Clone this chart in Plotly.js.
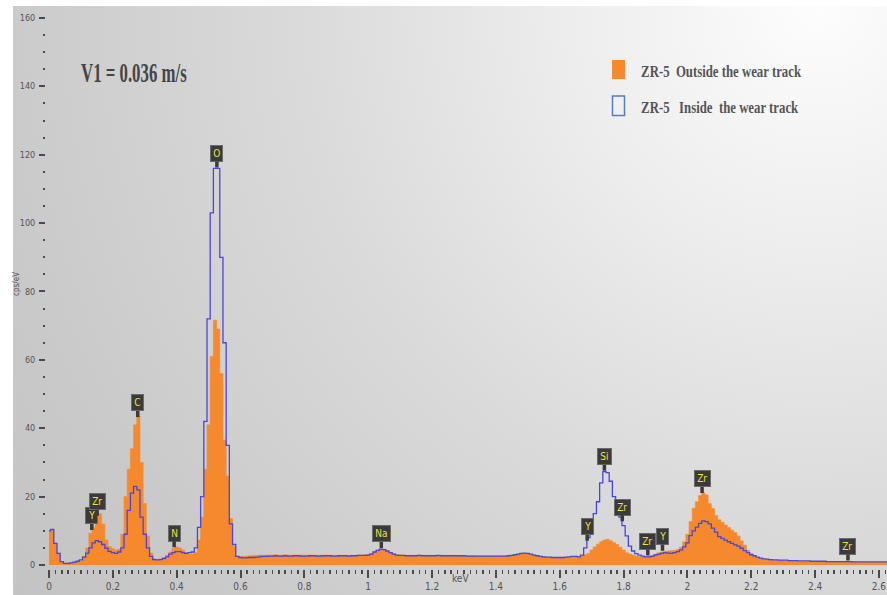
<!DOCTYPE html>
<html>
<head>
<meta charset="utf-8">
<script src="https://cdn.plot.ly/plotly-3.0.1.min.js"></script>
<style>
  html, body { margin: 0; padding: 0; background: #ffffff; }
  #wrap { position: relative; width: 887px; height: 595px; overflow: hidden; }
  #bg {
    position: absolute; left: 13px; top: 6px; right: 0; bottom: 0;
    background: radial-gradient(circle at 92% 0%, #fdfdfd 0px, #ededed 250px, #dadada 520px, #cacaca 820px, #c3c3c3 1000px);
  }
  #chart { position: absolute; left: 0; top: 0; width: 887px; height: 595px; }
</style>
</head>
<body>
<div id="wrap"><div id="bg"></div><div id="chart"></div></div>
<script>
// EDS spectra, 0.01 keV channels starting at 0.00 keV (cps/eV)
const channelStart = 0.0;
const channelWidth = 0.01;

// ZR-5, outside the wear track
const outsideTrack = [
  10, 10.4, 6.3, 3.4, 1.0, 0.5, 0.5, 0.6, 0.8, 1.0,
  1.2, 2.5, 5.0, 9.3, 11, 14, 15, 12, 7.3, 5.4,
  4.8, 4.4, 4.6, 9.0, 20, 28, 34, 41, 43.5, 30,
  18, 8.5, 3.5, 1.8, 1.6, 1.8, 2.1, 2.9, 3.8, 4.8,
  5.3, 5.0, 4.4, 3.6, 3.2, 3.2, 3.6, 7.3, 14, 28,
  41, 61, 71.6, 69, 56, 36.5, 26, 13.6, 5.4, 2.5,
  2.4, 2.5, 2.6, 2.7, 2.8, 2.8, 2.9, 2.9, 2.9, 2.9,
  2.9, 3.0, 2.9, 2.9, 3.0, 2.9, 2.9, 2.9, 2.9, 2.9,
  2.9, 2.9, 2.9, 2.8, 2.9, 2.9, 2.8, 2.9, 2.8, 2.8,
  2.8, 2.8, 2.8, 2.8, 2.8, 2.8, 2.8, 2.9, 2.9, 3.0,
  3.1, 3.4, 3.9, 4.4, 4.7, 4.6, 4.2, 3.7, 3.3, 3.0,
  2.9, 2.9, 2.8, 2.8, 2.8, 2.8, 2.9, 2.8, 2.8, 2.8,
  2.8, 2.8, 2.8, 2.8, 2.8, 2.8, 2.8, 2.7, 2.7, 2.7,
  2.7, 2.7, 2.7, 2.7, 2.6, 2.6, 2.6, 2.6, 2.6, 2.6,
  2.6, 2.6, 2.6, 2.6, 2.7, 2.8, 2.9, 3.1, 3.3, 3.4,
  3.3, 3.1, 2.9, 2.7, 2.5, 2.4, 2.3, 2.3, 2.2, 2.2,
  2.2, 2.2, 2.2, 2.3, 2.3, 2.4, 2.5, 2.6, 3.0, 3.4,
  4.4, 5.3, 6.1, 6.8, 7.3, 7.5, 7.1, 6.5, 6.0, 5.2,
  4.4, 3.6, 3.2, 2.9, 2.6, 2.4, 2.4, 2.4, 2.5, 2.8,
  3.2, 3.6, 3.8, 4.0, 4.1, 4.2, 4.3, 4.5, 5.2, 6.8,
  9.0, 12.7, 16.6, 18.5, 20.3, 21.1, 20.5, 18, 16.5, 14.5,
  13.2, 12.5, 11.7, 11, 10.2, 9.5, 8.5, 7.0, 5.8, 4.3,
  3.4, 2.6, 2.1, 1.8, 1.6, 1.5, 1.5, 1.4, 1.4, 1.3,
  1.3, 1.2, 1.2, 1.2, 1.1, 1.1, 1.1, 1.0, 1.0, 1.0,
  1.0, 1.0, 1.0, 0.9, 0.9, 0.9, 0.9, 0.9, 0.9, 0.9,
  0.9, 0.9, 0.9, 0.9, 0.8, 0.8, 0.8, 0.8, 0.8, 0.8,
  0.8, 0.8, 0.8, 0.8
];

// ZR-5, inside the wear track
const insideTrack = [
  10, 10.4, 6.3, 3.4, 1.0, 0.5, 0.5, 0.6, 0.8, 1.1,
  1.5, 2.3, 3.5, 5.0, 6.5, 7.1, 6.8, 6.0, 4.9, 4.0,
  3.6, 3.4, 3.8, 5.0, 9.0, 16, 21, 23, 22, 14,
  9.0, 5.0, 2.5, 1.6, 1.5, 1.6, 1.9, 2.4, 3.2, 3.6,
  3.9, 3.9, 3.6, 3.4, 3.6, 3.8, 5.0, 11, 20, 42,
  72, 103, 116, 116, 90, 65, 35, 12, 6.0, 2.5,
  2.2, 2.1, 2.1, 2.2, 2.2, 2.3, 2.4, 2.5, 2.5, 2.6,
  2.6, 2.7, 2.6, 2.6, 2.7, 2.6, 2.6, 2.7, 2.7, 2.6,
  2.6, 2.6, 2.7, 2.7, 2.6, 2.6, 2.7, 2.7, 2.7, 2.6,
  2.6, 2.7, 2.7, 2.7, 2.6, 2.7, 2.7, 2.8, 2.8, 2.8,
  2.9, 3.2, 3.8, 4.3, 4.6, 4.5, 4.1, 3.6, 3.2, 2.9,
  2.8, 2.8, 2.7, 2.7, 2.7, 2.7, 2.8, 2.7, 2.7, 2.7,
  2.7, 2.7, 2.8, 2.7, 2.7, 2.7, 2.7, 2.7, 2.7, 2.7,
  2.7, 2.6, 2.6, 2.6, 2.6, 2.6, 2.6, 2.6, 2.6, 2.6,
  2.6, 2.6, 2.6, 2.6, 2.7, 2.8, 3.0, 3.2, 3.4, 3.5,
  3.4, 3.2, 2.9, 2.7, 2.5, 2.4, 2.3, 2.3, 2.2, 2.2,
  2.2, 2.2, 2.3, 2.4, 2.5, 2.5, 2.4, 2.9, 5.0, 8.0,
  10.5, 15, 18.5, 24, 27.3, 27, 24.5, 20, 17, 14,
  11.5, 8.5, 5.5, 4.1, 3.3, 2.9, 2.6, 2.4, 2.4, 2.5,
  2.9, 3.1, 3.4, 3.6, 3.5, 3.4, 3.6, 3.9, 4.4, 5.3,
  6.5, 8.6, 10, 11.1, 12.2, 12.9, 12.7, 12, 10.8, 9.6,
  8.3, 7.8, 7.3, 6.8, 6.3, 5.9, 5.5, 4.9, 4.2, 3.6,
  3.0, 2.7, 2.3, 2.0, 1.8, 1.7, 1.6, 1.5, 1.5, 1.4,
  1.4, 1.4, 1.3, 1.3, 1.3, 1.2, 1.2, 1.2, 1.2, 1.1,
  1.1, 1.1, 1.1, 1.1, 1.0, 1.0, 1.0, 1.0, 1.0, 1.0,
  1.0, 1.0, 0.9, 0.9, 0.9, 0.9, 0.9, 0.9, 0.9, 0.9,
  0.9, 0.9, 0.9, 0.9
];

// Identified lines (element, energy in keV)
const peakElements = ['Y', 'Zr', 'C', 'N', 'O', 'Na', 'Y', 'Si', 'Zr', 'Zr', 'Y', 'Zr', 'Zr'];
const peakEnergies = [0.134, 0.151, 0.278, 0.392, 0.526, 1.041, 1.686, 1.740, 1.796, 1.876, 1.922, 2.046, 2.503];

const xTickValues = [0, 0.2, 0.4, 0.6, 0.8, 1, 1.2, 1.4, 1.6, 1.8, 2, 2.2, 2.4, 2.6];
const yTickValues = [0, 20, 40, 60, 80, 100, 120, 140, 160];

const seriesNames = ['ZR-5\u00a0\u00a0Outside the wear track', 'ZR-5\u00a0\u00a0\u00a0Inside\u00a0\u00a0the wear track'];
const speedLabel = 'V1 = 0.036 m/s';

// ---- layout geometry ----
const W = 887, H = 595;
const M = { l: 46, r: 0, t: 10, b: 26 };
const zeroX = 49, pxPerKeV = 319.2;     // where 0 keV sits, and scale
const zeroY = 565, pxPerCps = 3.419;    // where 0 cps/eV sits, and scale
const plotW = W - M.l - M.r, plotH = H - M.t - M.b;
const xRange = [(M.l - zeroX) / pxPerKeV, (W - M.r - zeroX) / pxPerKeV];
const yRange = [(zeroY - (H - M.b)) / pxPerCps, (zeroY - M.t) / pxPerCps];
const px = X => (X - M.l) / plotW;
const py = Y => (H - M.b - Y) / plotH;

const energy = outsideTrack.map((_, i) => +(channelStart + i * channelWidth).toFixed(2));

function valueAt(series, e) {
  const f = (e - channelStart) / channelWidth;
  const i = Math.max(0, Math.min(series.length - 2, Math.floor(f)));
  const t = f - i;
  return series[i] * (1 - t) + series[i + 1] * t;
}

const ORANGE = '#f6892d';
const BLUE = '#4b46d9';
const TICK_FONT = '"Liberation Sans Narrow", "DejaVu Sans Condensed", "Liberation Sans", Arial, sans-serif';
const SERIF = '"Liberation Serif", "Times New Roman", serif';

const traces = [
  {
    x: energy, y: outsideTrack, type: 'scatter', mode: 'lines',
    line: { shape: 'hvh', color: ORANGE, width: 0.6 },
    fill: 'tozeroy', fillcolor: ORANGE, name: seriesNames[0],
    hoverinfo: 'skip'
  },
  {
    x: energy, y: insideTrack, type: 'scatter', mode: 'lines',
    line: { shape: 'hvh', color: BLUE, width: 1.3 },
    name: seriesNames[1], hoverinfo: 'skip'
  }
];

const annotations = [];

// element markers
peakElements.forEach((el, i) => {
  const e = peakEnergies[i];
  const top = Math.max(valueAt(outsideTrack, e), valueAt(insideTrack, e));
  annotations.push({
    x: e, y: top, xref: 'x', yref: 'y',
    text: el, showarrow: true, arrowhead: 0, arrowwidth: 3.5, arrowcolor: '#3a3a3a',
    ax: 0, ay: -15, standoff: 1,
    bgcolor: '#3a3a3a', bordercolor: '#6a6a6a', borderwidth: 1, borderpad: 2.2,
    font: { family: TICK_FONT, size: 10, color: '#eee23a' }
  });
});

const squeeze = {};
// speed label
squeeze[annotations.length] = 0.6;
annotations.push({
  xref: 'paper', yref: 'paper', x: px(79), y: py(73), xanchor: 'left', yanchor: 'middle',
  text: speedLabel, showarrow: false,
  font: { family: SERIF, size: 28, color: '#454545', weight: 'bold' }
});
// legend entries
squeeze[annotations.length] = 0.8;
annotations.push({
  xref: 'paper', yref: 'paper', x: px(639), y: py(71), xanchor: 'left', yanchor: 'middle',
  text: seriesNames[0], showarrow: false,
  font: { family: SERIF, size: 16, color: '#555555', weight: 'bold' }
});
squeeze[annotations.length] = 0.8;
annotations.push({
  xref: 'paper', yref: 'paper', x: px(639), y: py(107), xanchor: 'left', yanchor: 'middle',
  text: seriesNames[1], showarrow: false,
  font: { family: SERIF, size: 16, color: '#555555', weight: 'bold' }
});
// axis titles
annotations.push({
  xref: 'paper', yref: 'paper', x: px(460), y: py(578), xanchor: 'center', yanchor: 'middle',
  text: 'keV', showarrow: false, font: { family: TICK_FONT, size: 10, color: '#555' }
});
annotations.push({
  xref: 'paper', yref: 'paper', x: px(16), y: py(284), xanchor: 'center', yanchor: 'middle',
  text: 'cps/eV', textangle: -90, showarrow: false, font: { family: TICK_FONT, size: 8, color: '#555' }
});

const shapes = [
  { type: 'rect', xref: 'paper', yref: 'paper', x0: px(612), x1: px(625), y0: py(79), y1: py(60),
    fillcolor: ORANGE, line: { width: 0 } },
  { type: 'rect', xref: 'paper', yref: 'paper', x0: px(612.5), x1: px(624.5), y0: py(115.5), y1: py(96),
    fillcolor: 'rgba(240,240,240,0.6)', line: { color: '#5a7cc0', width: 1.5 } }
];

const layout = {
  width: W, height: H, margin: M,
  paper_bgcolor: 'rgba(0,0,0,0)', plot_bgcolor: 'rgba(0,0,0,0)',
  showlegend: false,
  xaxis: {
    range: xRange, tickvals: xTickValues, ticks: 'outside', ticklen: 8, tickwidth: 2,
    tickcolor: '#4a4a4a', showgrid: false, zeroline: false, showline: false,
    tickfont: { family: TICK_FONT, size: 10, color: '#555' },
    minor: { dtick: 0.02, tick0: 0, ticks: 'outside', ticklen: 4, tickwidth: 1.5, tickcolor: '#4a4a4a', showgrid: false },
    fixedrange: true
  },
  yaxis: {
    range: yRange, tickvals: yTickValues, ticks: 'outside', ticklen: 6, tickwidth: 2,
    tickcolor: '#4a4a4a', showgrid: false, zeroline: false, showline: false,
    ticklabelstandoff: 2,
    tickfont: { family: TICK_FONT, size: 9, color: '#555' },
    minor: { dtick: 5, tick0: 0, ticks: 'outside', ticklen: 2.5, tickwidth: 2, tickcolor: '#4a4a4a', showgrid: false },
    fixedrange: true
  },
  annotations: annotations,
  shapes: shapes
};

Plotly.newPlot('chart', traces, layout, { displayModeBar: false, staticPlot: true }).then(gd => {
  // condensed serif lettering for the speed label and legend
  Object.keys(squeeze).forEach(idx => {
    const t = gd.querySelector('.annotation[data-index="' + idx + '"] text.annotation-text');
    if (!t) return;
    t.style.transformBox = 'fill-box';
    t.style.transformOrigin = '0% 50%';
    t.style.transform = 'scaleX(' + squeeze[idx] + ')';
  });
});
</script>
</body>
</html>
